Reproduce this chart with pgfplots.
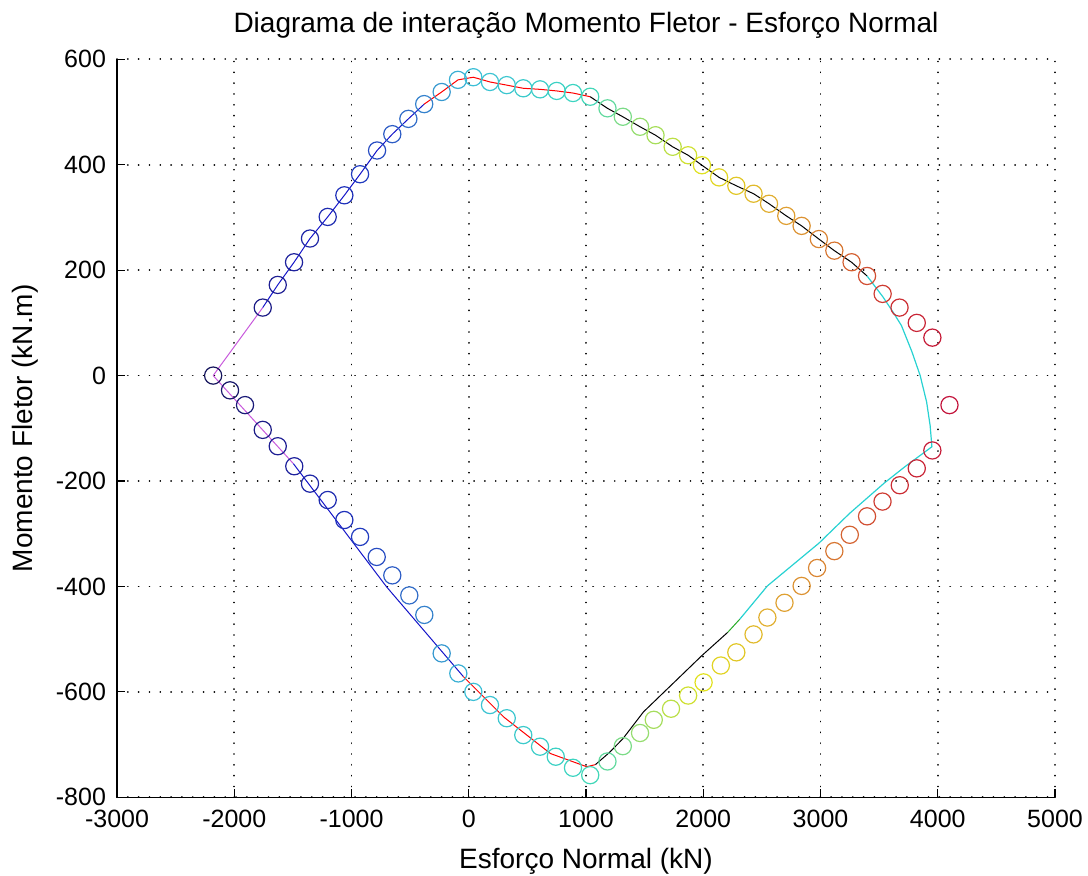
\documentclass[border=0pt]{standalone}
\usepackage{pgfplots}
\pgfplotsset{compat=1.18}
\usepackage{pgfplotstable}
\usepackage{fontspec}
\setmainfont{Liberation Sans}

\pgfplotsset{colormap={matmap}{rgb255(0cm)=(20,20,90); rgb255(6cm)=(30,30,150); rgb255(12cm)=(30,50,190); rgb255(17cm)=(50,110,200); rgb255(22cm)=(60,190,215); rgb255(32cm)=(60,215,190); rgb255(36cm)=(140,220,120); rgb255(42cm)=(225,225,30); rgb255(48cm)=(225,170,50); rgb255(53cm)=(215,120,50); rgb255(58cm)=(205,50,50); rgb255(63cm)=(195,20,60)}}

\pgfplotstableread{
x y
-2180 0
-1757 129
-1629 172
-1490 215
-1354 260
-1203 301
-1061 342
-927 382
-782 427
-652 458
-515 487
-380 515
-231 538
-92 561
39 566
181 557
324 551
465 545
608 543
750 540
889 536
1036 529
1183 507
1314 491
1461 472
1593 456
1739 434
1871 418
1989 399
2135 376
2282 360
2429 345
2561 326
2708 303
2839 284
2986 259
3118 237
3265 215
3397 189
3530 155
3674 129
3821 100
3954 72
-2036 -28
-1908 -56
-1757 -103
-1629 -134
-1488 -172
-1354 -205
-1203 -236
-1061 -274
-927 -306
-785 -344
-652 -379
-507 -417
-379 -454
-231 -527
-89 -565
39 -600
181 -625
324 -650
465 -682
608 -704
742 -723
889 -744
1036 -758
1183 -732
1314 -703
1461 -678
1578 -653
1725 -632
1871 -607
2003 -582
2150 -550
2282 -525
2429 -491
2547 -459
2693 -431
2839 -399
2971 -365
3118 -333
3250 -302
3397 -267
3529 -239
3676 -208
3821 -176
3954 -142
4100 -56
}\markers

\begin{document}
\begin{tikzpicture}[font=\fontsize{13}{15}\selectfont]
\begin{axis}[
  scale only axis, width=469pt, height=369pt,
  xmin=-3000, xmax=5000, ymin=-800, ymax=600,
  xtick={-3000,-2000,...,5000}, ytick={-800,-600,...,600},
  axis x line=bottom, axis y line=left,
  axis line style={-, line width=0.6pt, black},
  tick align=inside, major tick length=4pt,
  tick style={black, line width=0.6pt},
  tick label style={font=\fontsize{12.5}{15}\selectfont},
  xticklabel style={yshift=-3pt},
  yticklabel style={xshift=-2pt},
  grid=major,
  grid style={black, line width=0.9pt, dash pattern=on 0.01pt off 5.4pt, line cap=round},
  /pgf/number format/assume math mode=true,
  /pgf/number format/set thousands separator={},
  every axis title shift=0pt,
  title={Diagrama de interação Momento Fletor - Esforço Normal},
  title style={at={(axis description cs:0.5,1.036)}, anchor=base, inner sep=0pt, font=\fontsize{14}{16}\selectfont},
  xlabel={Esforço Normal (kN)},
  xlabel style={at={(axis description cs:0.5,-0.096)}, anchor=base, inner sep=0pt, font=\fontsize{14}{16}\selectfont},
  ylabel={Momento Fletor (kN.m)},
  ylabel style={at={(axis description cs:-0.098,0.5)}, anchor=center, inner sep=0pt, font=\fontsize{14}{16}\selectfont},
  colormap name=matmap, point meta min=-2200, point meta max=4100,
  clip=false,
]
\coordinate (sw) at (rel axis cs:0,0);
\coordinate (ne) at (rel axis cs:1,1);
\addplot[scatter, only marks, mark=o, mark size=4.3pt, point meta=x,
  scatter/use mapped color={draw=mapped color},
  mark options={line width=0.6pt}] table[x=x,y=y] {\markers};
% lines
\addplot[color={rgb,255:red,200;green,90;blue,220}, line width=0.5pt, mark=none] coordinates {(-2180,0) (-1757,129)};
\addplot[color={rgb,255:red,200;green,90;blue,220}, line width=0.5pt, mark=none] coordinates {(-2180,0) (-1496,-167)};
\addplot[color={rgb,255:red,20;green,20;blue,200}, line width=0.5pt, mark=none] coordinates {(-1757,129) (-1629,172) (-1490,215) (-1354,260) (-1203,301) (-1061,342) (-927,382) (-782,427) (-652,458) (-515,487) (-380,515)};
\addplot[color={rgb,255:red,20;green,20;blue,200}, line width=0.5pt, mark=none] coordinates {(-1496,-167) (-700,-401) (-46,-571)};
\addplot[color=red, line width=0.5pt, mark=none] coordinates {(-380,515) (-231,538) (-92,561) (39,566) (181,557) (324,551) (465,545) (608,543) (750,540) (889,536) (1036,529)};
\addplot[color=red, line width=0.5pt, mark=none] coordinates {(-46,-571) (300,-648) (697,-717) (1006,-742) (1080,-738)};
\addplot[color=black, line width=0.5pt, mark=none] coordinates {(1036,529) (1183,507) (1314,491) (1461,472) (1593,456) (1739,434) (1871,418) (1989,399) (2135,376) (2282,360) (2429,345) (2561,326) (2708,303) (2839,284) (2986,259) (3118,237) (3265,215) (3397,189)};
\addplot[color=black, line width=0.5pt, mark=none] coordinates {(1080,-738) (1200,-715) (1314,-689) (1490,-638) (1784,-575) (1989,-531) (2209,-487)};
\addplot[color={rgb,255:red,40;green,170;blue,40}, line width=0.5pt, mark=none] coordinates {(2209,-487) (2312,-462)};
\addplot[color={rgb,255:red,40;green,210;blue,210}, line width=0.6pt, mark=none] coordinates {(2312,-462) (2547,-399) (2986,-318) (3250,-261) (3543,-204) (3719,-173) (3950,-135) (3935,-95) (3905,-50) (3850,0) (3780,45) (3690,95) (3620,120) (3530,150) (3397,189)};
\end{axis}
\pgfresetboundingbox
\path ([shift={(-58.5pt,-39pt)}]sw) rectangle ([shift={(16.5pt,29.65pt)}]ne);
\end{tikzpicture}
\end{document}
